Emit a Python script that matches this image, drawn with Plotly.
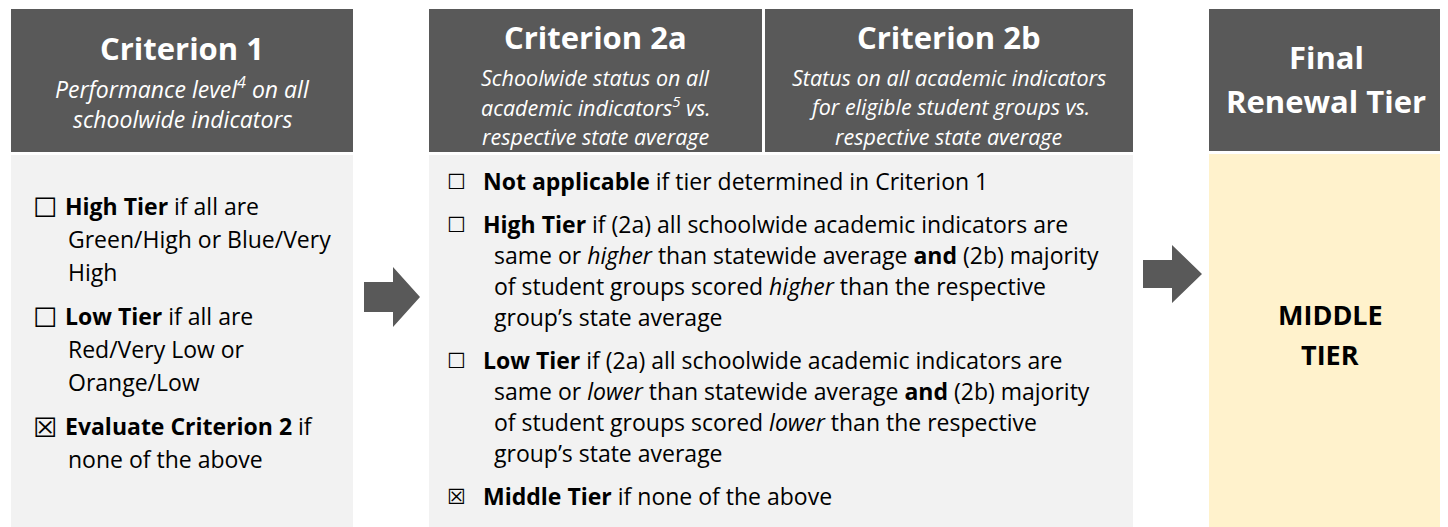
import plotly.graph_objects as go

# ---------------- content ----------------
headers_title = ["Criterion 1", "Criterion 2a", "Criterion 2b"]
headers_sub = [
    ["<i>Performance level<sup>4</sup> on all</i>", "<i>schoolwide indicators</i>"],
    ["<i>Schoolwide status on all</i>", "<i>academic indicators<sup>5</sup> vs.</i>", "<i>respective state average</i>"],
    ["<i>Status on all academic indicators</i>", "<i>for eligible student groups vs.</i>", "<i>respective state average</i>"],
]
final_title = ["Final", "Renewal Tier"]
final_result = ["MIDDLE", "TIER"]

crit1_marks = ["☐", "☐", "☒"]
crit1_items = [
    ["<b>High Tier</b> if all are", "Green/High or Blue/Very", "High"],
    ["<b>Low Tier</b> if all are", "Red/Very Low or", "Orange/Low"],
    ["<b>Evaluate Criterion 2</b> if", "none of the above"],
]
crit2_marks = ["☐", "☐", "☐", "☒"]
crit2_items = [
    ["<b>Not applicable</b> if tier determined in Criterion 1"],
    ["<b>High Tier</b> if (2a) all schoolwide academic indicators are",
     "same or <i>higher</i> than statewide average <b>and</b> (2b) majority",
     "of student groups scored <i>higher</i> than the respective",
     "group’s state average"],
    ["<b>Low Tier</b> if (2a) all schoolwide academic indicators are",
     "same or <i>lower</i> than statewide average <b>and</b> (2b) majority",
     "of student groups scored <i>lower</i> than the respective",
     "group’s state average"],
    ["<b>Middle Tier</b> if none of the above"],
]

# ---------------- styling / layout ----------------
W, H = 1448, 527
OFF = 8  # page body margin of the html page
DARK = "#595959"
LIGHT = "#F2F2F2"
CREAM = "#FFF2CC"
HEAD_FONT = "Open Sans"
BODY_FONT = "Open Sans"

shapes = []
ann = []

def rect(x0, y0, x1, y1, color):
    shapes.append(dict(type="rect", xref="x", yref="y", x0=x0, y0=y0, x1=x1, y1=y1,
                       fillcolor=color, line=dict(width=0), layer="below"))

def text(x, y, s, size, color="#000000", family=HEAD_FONT, xanchor="center"):
    ann.append(dict(x=x, y=y, xref="x", yref="y", text=s, showarrow=False,
                    xanchor=xanchor, yanchor="middle",
                    font=dict(size=size, color=color, family=family)))

def arrow(x0, xh, xt, yc, sh, hh, color):
    p = (f"M {x0} {yc-sh/2} L {xh} {yc-sh/2} L {xh} {yc-hh/2} L {xt} {yc} "
         f"L {xh} {yc+hh/2} L {xh} {yc+sh/2} L {x0} {yc+sh/2} Z")
    shapes.append(dict(type="path", xref="x", yref="y", path=p, fillcolor=color,
                       line=dict(width=0)))

# header boxes
head_boxes = [(11, 353), (429, 762), (765, 1133)]
for (x0, x1) in head_boxes:
    rect(x0, 9, x1, 152, DARK)
# body boxes
rect(11, 155, 353, H + 5, LIGHT)
rect(429, 155, 1133, H + 5, LIGHT)
rect(1209, 9, 1443, 151, DARK)
rect(1209, 154, 1443, H + 5, CREAM)

# arrows
arrow(364, 393, 420, 297, 30, 60, DARK)
arrow(1143, 1172, 1202, 274, 28, 58, DARK)

# header texts
title_y = [48, 37, 37]
sub_y0 = [88, 77, 77]
sub_dy = [31, 29.5, 29.5]
sub_size = [23, 21.5, 21.5]
for i, (x0, x1) in enumerate(head_boxes):
    cx = (x0 + x1) / 2
    text(cx, title_y[i], f"<b>{headers_title[i]}</b>", 31, "white")
    for j, s in enumerate(headers_sub[i]):
        text(cx, sub_y0[i] + j * sub_dy[i], s, sub_size[i], "white")

fcx = (1209 + 1443) / 2
for j, s in enumerate(final_title):
    text(fcx, 57 + j * 44, f"<b>{s}</b>", 31, "white")
for j, s in enumerate(final_result):
    text(fcx + 4, 314 + j * 40, f"<b>{s}</b>", 27, "#000000")

# criterion 1 body
y = 206
for m, lines in zip(crit1_marks, crit1_items):
    text(31, y + 1, m, 27, family="DejaVu Sans", xanchor="left")
    for k, s in enumerate(lines):
        text(63 if k == 0 else 66, y, s, 23, family=BODY_FONT, xanchor="left")
        if k < len(lines) - 1:
            y += 33
    y += 44

# criterion 2 body
y = 181
for m, lines in zip(crit2_marks, crit2_items):
    text(445, y + 1, m, 21, family="DejaVu Sans", xanchor="left")
    for k, s in enumerate(lines):
        text(481 if k == 0 else 492, y, s, 23, family=BODY_FONT, xanchor="left")
        if k < len(lines) - 1:
            y += 31
    y += 43

fig = go.Figure()
fig.update_layout(
    width=W - OFF, height=H - OFF,
    margin=dict(l=0, r=0, t=0, b=0),
    paper_bgcolor="white", plot_bgcolor="white",
    xaxis=dict(range=[OFF, W], visible=False, fixedrange=True),
    yaxis=dict(range=[H, OFF], visible=False, fixedrange=True),
    shapes=shapes, annotations=ann, showlegend=False,
)
fig.write_html("out.html")
